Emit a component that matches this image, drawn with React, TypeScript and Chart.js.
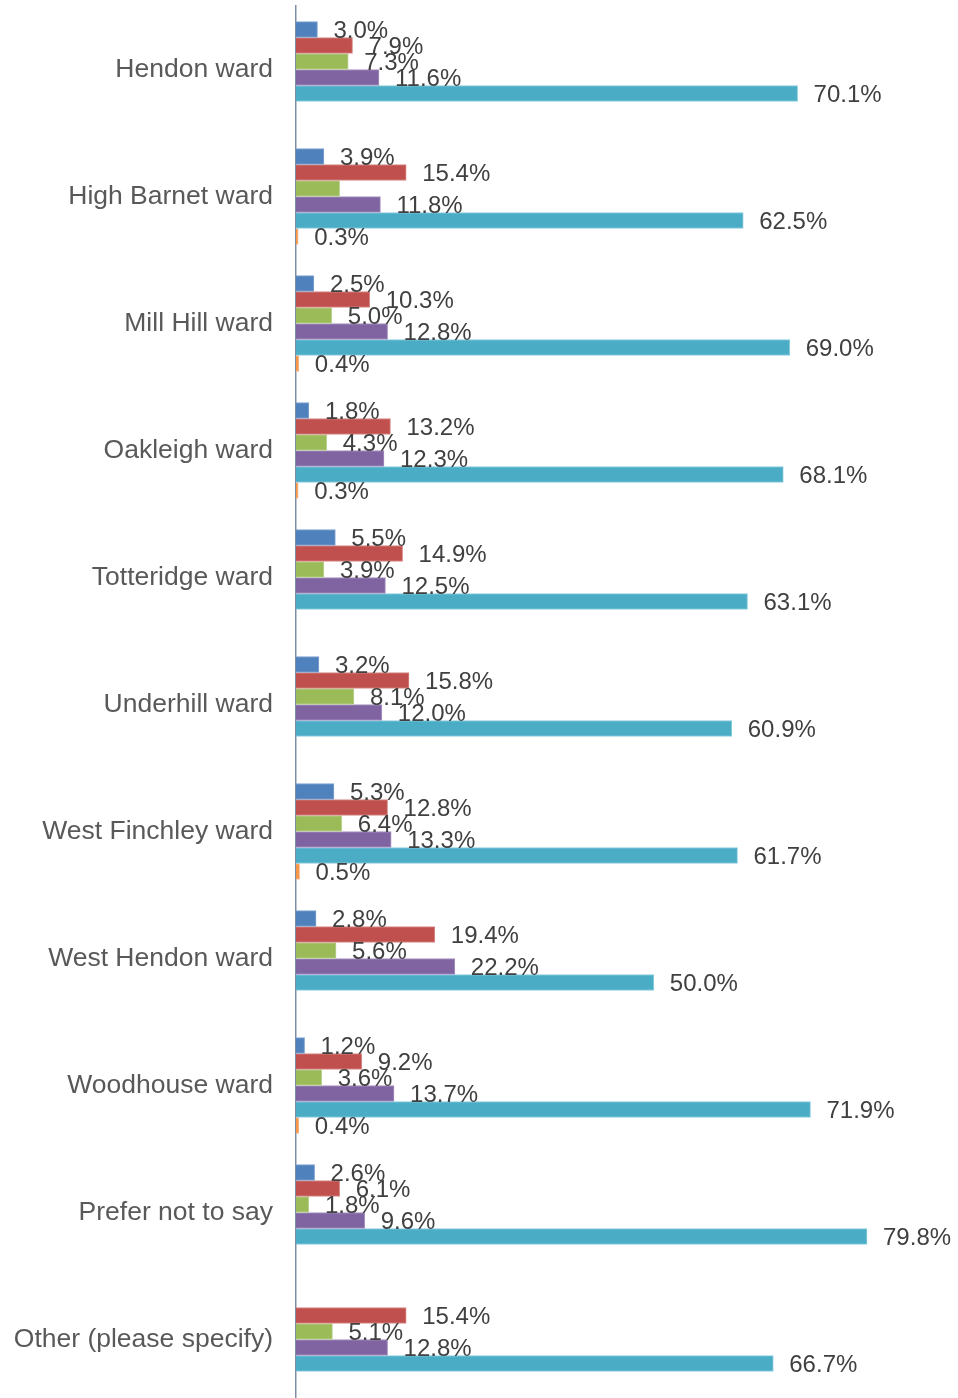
import React, { useEffect, useRef } from "react";
import { Chart, registerables } from "chart.js";

Chart.register(...registerables);

const categories = [
  "Hendon ward",
  "High Barnet ward",
  "Mill Hill ward",
  "Oakleigh ward",
  "Totteridge ward",
  "Underhill ward",
  "West Finchley ward",
  "West Hendon ward",
  "Woodhouse ward",
  "Prefer not to say",
  "Other (please specify)",
];

const seriesNames = ["Series 1", "Series 2", "Series 3", "Series 4", "Series 5", "Series 6"];

const blueValues = [3.0, 3.9, 2.5, 1.8, 5.5, 3.2, 5.3, 2.8, 1.2, 2.6, null];
const redValues = [7.9, 15.4, 10.3, 13.2, 14.9, 15.8, 12.8, 19.4, 9.2, 6.1, 15.4];
const greenValues = [7.3, 6.1, 5.0, 4.3, 3.9, 8.1, 6.4, 5.6, 3.6, 1.8, 5.1];
const purpleValues = [11.6, 11.8, 12.8, 12.3, 12.5, 12.0, 13.3, 22.2, 13.7, 9.6, 12.8];
const tealValues = [70.1, 62.5, 69.0, 68.1, 63.1, 60.9, 61.7, 50.0, 71.9, 79.8, 66.7];
const orangeValues = [null, 0.3, 0.4, 0.3, null, null, 0.5, null, 0.4, null, null];

// [datasetIndex, categoryIndex] whose value label is not shown in the reference
const hiddenLabels = [[2, 1]];

const colors = ["#4F81BD", "#C0504D", "#9BBB59", "#8064A2", "#4BACC6", "#F79646"];
const borderColors = ["#7FA3D1", "#D98B89", "#BCD498", "#A892C2", "#8ACDDE", "#F9B98A"];

const FONT = '"Liberation Sans", Arial, sans-serif';

const valueLabelPlugin = {
  id: "valueLabels",
  afterDatasetsDraw(chart: any) {
    const ctx = chart.ctx;
    ctx.save();
    ctx.font = `24px ${FONT}`;
    ctx.fillStyle = "#404040";
    ctx.textAlign = "left";
    ctx.textBaseline = "middle";
    chart.data.datasets.forEach((ds: any, di: number) => {
      const meta = chart.getDatasetMeta(di);
      meta.data.forEach((bar: any, i: number) => {
        const v = ds.data[i];
        if (v === null || v === undefined) return;
        if (hiddenLabels.some(([d, c]) => d === di && c === i)) return;
        const { x, y } = bar.getProps(["x", "y"], true);
        ctx.fillText(v.toFixed(1) + "%", x + 16, y + 2);
      });
    });
    ctx.restore();
  },
};

export default function App() {
  const canvasRef = useRef<HTMLCanvasElement | null>(null);

  useEffect(() => {
    document.body.style.margin = "0";
    const canvas = canvasRef.current;
    if (!canvas) return;
    const allSeries = [blueValues, redValues, greenValues, purpleValues, tealValues, orangeValues];
    const chart = new Chart(canvas, {
      type: "bar",
      data: {
        labels: categories,
        datasets: allSeries.map((vals, i) => ({
          label: seriesNames[i],
          data: vals,
          backgroundColor: colors[i],
          borderColor: borderColors[i],
          borderWidth: 1,
          barThickness: 16,
        })),
      },
      options: {
        indexAxis: "y",
        responsive: false,
        animation: false,
        devicePixelRatio: 1,
        layout: { padding: { top: 6, bottom: 1, left: 0, right: 18 } },
        plugins: {
          legend: { display: false },
          tooltip: { enabled: false },
          title: { display: false },
        },
        scales: {
          x: {
            display: false,
            min: 0,
            max: 90,
          },
          y: {
            grid: { display: false, drawTicks: false },
            border: { display: true, color: "#7F8FA6", width: 1.5 },
            ticks: {
              color: "#595959",
              font: { family: FONT, size: 26.5 },
              padding: 23,
            },
            afterFit(scale: any) {
              scale.width = 296;
              scale.paddingTop = 0;
              scale.paddingBottom = 0;
            },
          },
        },
      },
      plugins: [valueLabelPlugin],
    } as any);
    return () => chart.destroy();
  }, []);

  return (
    <div style={{ width: 958, height: 1398, overflow: "hidden", position: "relative" }}>
      <canvas ref={canvasRef} width={958} height={1404} style={{ display: "block" }} />
    </div>
  );
}
